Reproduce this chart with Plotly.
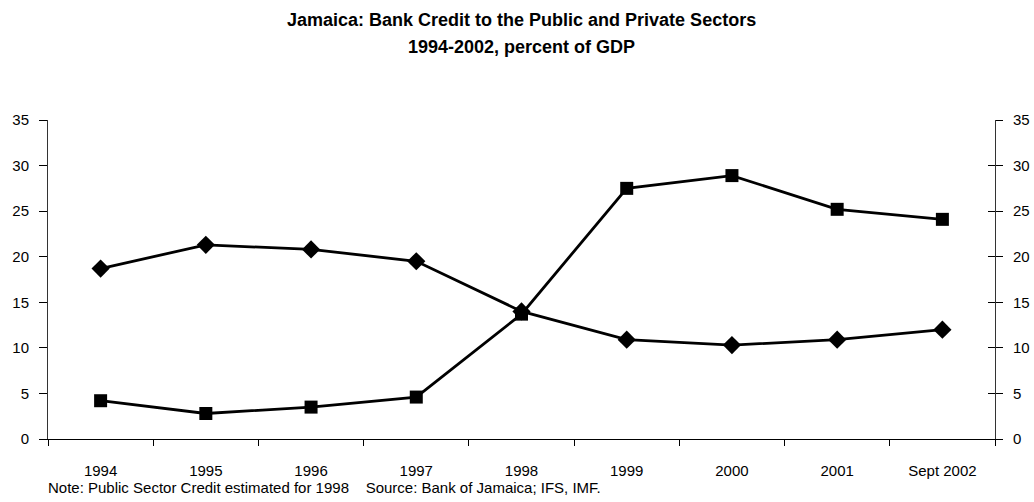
import plotly.graph_objects as go

# Bank credit, percent of GDP
periods = ["1994", "1995", "1996", "1997", "1998", "1999", "2000", "2001", "Sept 2002"]
public_credit = [4.2, 2.8, 3.5, 4.6, 13.7, 27.5, 28.9, 25.2, 24.1]
private_credit = [18.7, 21.3, 20.8, 19.5, 14.0, 10.9, 10.3, 10.9, 12.0]
y_ticks = [0, 5, 10, 15, 20, 25, 30, 35]

FONT = "Liberation Sans, Arial, Helvetica, sans-serif"
FS = 15

fig = go.Figure()
fig.add_trace(go.Scatter(
    x=periods, y=private_credit, mode="lines+markers",
    line=dict(color="black", width=2.8),
    marker=dict(symbol="diamond", size=14, color="black"),
    name="Private Sector Credit", showlegend=False,
))
fig.add_trace(go.Scatter(
    x=periods, y=public_credit, mode="lines+markers",
    line=dict(color="black", width=2.8),
    marker=dict(symbol="square", size=13, color="black"),
    name="Public Sector Credit", showlegend=False,
))
# invisible traces to carry the mirrored right-hand axes
fig.add_trace(go.Scatter(x=periods, y=public_credit, yaxis="y2", mode="lines",
                         line=dict(width=0), hoverinfo="skip", showlegend=False))
fig.add_trace(go.Scatter(x=periods, y=public_credit, yaxis="y3", mode="lines",
                         line=dict(width=0), hoverinfo="skip", showlegend=False))

fig.update_layout(
    width=1034, height=502,
    margin=dict(l=48, r=39, t=120, b=63),
    paper_bgcolor="white", plot_bgcolor="white",
    font=dict(family=FONT, size=FS, color="black"),
    xaxis=dict(
        type="category", categoryorder="array", categoryarray=periods,
        range=[-0.5, len(periods) - 0.5], automargin=False,
        showline=True, linecolor="black", linewidth=1.2,
        ticks="outside", tickson="boundaries", ticklen=6, tickcolor="black", tickwidth=1,
        ticklabelstandoff=18,
        showgrid=False, zeroline=False,
        tickfont=dict(family=FONT, size=FS),
    ),
    yaxis=dict(
        range=[0, 35], tickvals=y_ticks, automargin=False,
        showline=True, linecolor="#333", linewidth=1,
        ticks="outside", ticklen=8, tickcolor="black", tickwidth=1,
        ticklabelstandoff=7,
        showgrid=False, zeroline=False,
        tickfont=dict(family=FONT, size=FS),
    ),
    yaxis2=dict(
        range=[0, 35], tickvals=y_ticks, overlaying="y", side="right", automargin=False,
        showline=True, linecolor="#333", linewidth=1,
        ticks="outside", ticklen=7, tickcolor="black", tickwidth=1,
        ticklabelstandoff=7,
        showgrid=False, zeroline=False,
        tickfont=dict(family=FONT, size=FS),
    ),
    yaxis3=dict(
        range=[0, 35], tickvals=y_ticks, overlaying="y", side="right", automargin=False,
        showline=False, showticklabels=False,
        ticks="inside", ticklen=7, tickcolor="black", tickwidth=1,
        showgrid=False, zeroline=False,
    ),
)

# two-line bold heading
for line, shift in [("Jamaica: Bank Credit to the Public and Private Sectors", 100),
                    ("1994-2002, percent of GDP", 73)]:
    fig.add_annotation(x=0.5, xref="paper", xanchor="center",
                       y=1, yref="paper", yanchor="middle", yshift=shift,
                       text=f"<b>{line}</b>", showarrow=False,
                       font=dict(family=FONT, size=18))

fig.add_annotation(x="1999", y=30.3, text="Public Sector Credit", showarrow=False,
                   xshift=-25, font=dict(family=FONT, size=FS))
fig.add_annotation(x="1999", y=8.3, text="Private Sector Credit", showarrow=False,
                   xshift=45, font=dict(family=FONT, size=FS))
fig.add_annotation(
    x=0, xref="paper", xanchor="left", xshift=-2,
    y=0, yref="paper", yanchor="middle", yshift=-48,
    text="Note: Public Sector Credit estimated for 1998    Source: Bank of Jamaica; IFS, IMF.",
    showarrow=False, font=dict(family=FONT, size=FS),
)

fig.write_html("out.html")
